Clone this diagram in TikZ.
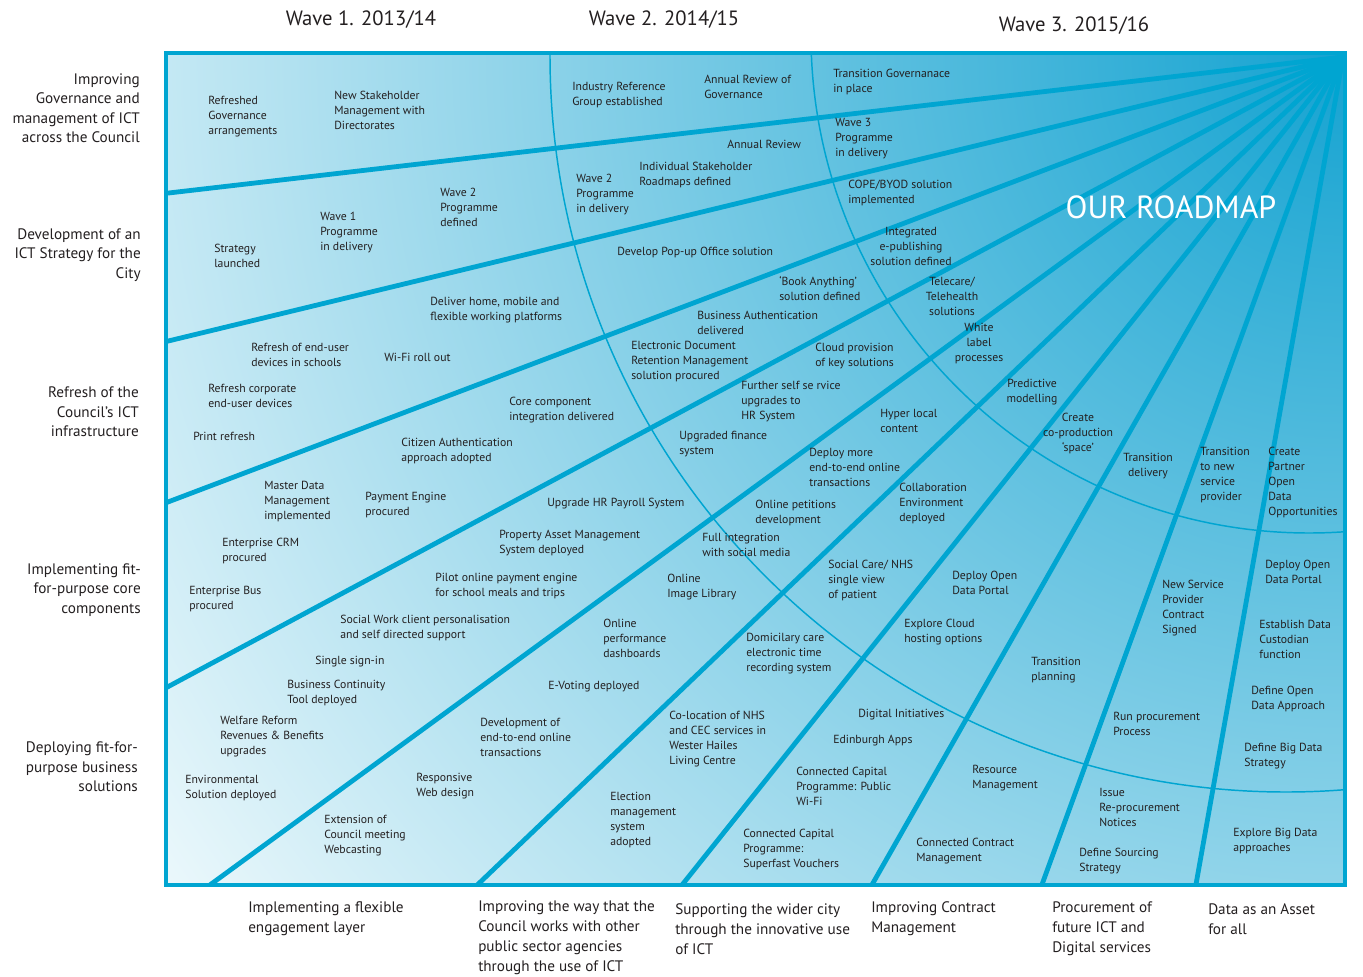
\documentclass[tikz,border=0pt]{standalone}
\usepackage{fontspec}
\setmainfont{PT Sans}
\definecolor{rayblue}{HTML}{00A5D1}
\definecolor{inkdark}{HTML}{231F20}
\definecolor{glowA}{HTML}{15A3D1}
\definecolor{glowE}{HTML}{EEF9FC}
\begin{document}
\begin{tikzpicture}[x=0.75pt,y=-0.75pt,
  item/.style={inner sep=0pt,anchor=west,align=left,text=inkdark,font=\fontsize{8.8}{11.25}\selectfont},
  itemc/.style={item,anchor=center,align=center},
  theme/.style={inner sep=0pt,anchor=east,align=right,text=inkdark,font=\fontsize{11.4}{14.6}\selectfont},
  outcome/.style={inner sep=0pt,anchor=west,align=left,text=inkdark,font=\fontsize{11.4}{15}\selectfont},
  wavehead/.style={inner sep=0pt,text=inkdark,font=\fontsize{15.5}{18}\selectfont},
  ray/.style={draw=rayblue,line width=3.6pt},
  waveline/.style={draw=rayblue,line width=1.1pt}]
\useasboundingbox (0,0) rectangle (1363,977);
  \coordinate (focus) at (1343,57);
  \coordinate (nw) at (166,53);
  \coordinate (se) at (1345,885);
  \coordinate (r1) at (160,194);
  \coordinate (r2) at (160,343);
  \coordinate (r3) at (160,505);
  \coordinate (r4) at (160,691);
  \coordinate (r5) at (203,890);
  \coordinate (r6) at (472,890);
  \coordinate (r7) at (678,890);
  \coordinate (r8) at (869,890);
  \coordinate (r9) at (1040,890);
  \coordinate (r10) at (1195,890);
\begin{scope}
  \clip (nw) rectangle (se);
  \shade[inner color=glowA,outer color=glowE] (focus) circle [radius=1460];
  \draw[waveline] (1286,56) circle [radius=736];
  \draw[waveline] (1309,35) circle [radius=498];
  \draw[ray] (focus) -- (r1);
  \draw[ray] (focus) -- (r2);
  \draw[ray] (focus) -- (r3);
  \draw[ray] (focus) -- (r4);
  \draw[ray] (focus) -- (r5);
  \draw[ray] (focus) -- (r6);
  \draw[ray] (focus) -- (r7);
  \draw[ray] (focus) -- (r8);
  \draw[ray] (focus) -- (r9);
  \draw[ray] (focus) -- (r10);
\end{scope}
\draw[draw=rayblue,line width=3pt] (nw) rectangle (se);

\node[wavehead] (wave1) at (361,20) {Wave 1. 2013/14};
\node[wavehead] (wave2) at (664,20) {Wave 2. 2014/15};
\node[wavehead] (wave3) at (1074,26) {Wave 3. 2015/16};
\node[inner sep=0pt,text=white,font=\fontsize{24}{27}\selectfont] (title) at (1171,207) {OUR ROADMAP};

\node[theme] (governance) at (140,108) {Improving\\Governance and\\management of ICT\\across the Council};
\node[theme] (strategy) at (141,255) {Development of an\\ICT Strategy for the\\City};
\node[theme] (infra) at (139,412) {Refresh of the\\Council’s ICT\\infrastructure};
\node[theme] (core) at (141,590) {Implementing fit-\\for-purpose core\\components};
\node[theme] (business) at (138,767) {Deploying fit-for-\\purpose business\\solutions};

\node[outcome] (engage) at (248,919) {Implementing a flexible\\engagement layer};
\node[outcome] (agencies) at (478,938) {Improving the way that the\\Council works with other\\public sector agencies\\through the use of ICT};
\node[outcome] (city) at (675,929) {Supporting the wider city\\through the innovative use\\of ICT};
\node[outcome] (contract) at (871,919) {Improving Contract\\Management};
\node[outcome] (procure) at (1052,929) {Procurement of\\future ICT and\\Digital services};
\node[outcome] (asset) at (1208,919) {Data as an Asset\\for all};

\node[item] (refgov) at (208,117) {Refreshed\\Governance\\arrangements};
\node[item] (newstake) at (334,110) {New Stakeholder\\Management with\\Directorates};
\node[item] (industry) at (572,95) {Industry Reference\\Group established};
\node[item] (annualgov) at (704,87) {Annual Review of\\Governance};
\node[item] (transgov) at (833,82) {Transition Governanace\\in place};

\node[item] (launched) at (214,256) {Strategy\\launched};
\node[item] (wave1del) at (320,233) {Wave 1\\Programme\\in delivery};
\node[item] (wave2def) at (440,207) {Wave 2\\Programme\\defined};
\node[item] (annual) at (727,144) {Annual Review};
\node[item] (roadmaps) at (639,175) {Individual Stakeholder\\Roadmaps defined};
\node[item] (wave2del) at (576,195) {Wave 2\\Programme\\in delivery};
\node[item] (wave3del) at (835,139) {Wave 3\\Programme\\in delivery};
\node[item] (cope) at (848,193) {COPE/BYOD solution\\implemented};

\node[item] (home) at (430,310) {Deliver home, mobile and\\flexible working platforms};
\node[item] (popup) at (617,252) {Develop Pop-up Office solution};
\node[itemc] (epub) at (911,246) {Integrated\\e-publishing\\solution defined};
\node[item] (schools) at (251,355) {Refresh of end-user\\devices in schools};
\node[item] (wifi) at (384,357) {Wi-Fi roll out};
\node[item] (corporate) at (208,396) {Refresh corporate\\end-user devices};
\node[item] (print) at (193,436) {Print refresh};
\node[item] (book) at (779,289) {‘Book Anything’\\solution defined};
\node[item] (busauth) at (697,323) {Business Authentication\\delivered};
\node[itemc] (telecare) at (952,296) {Telecare/\\Telehealth\\solutions};
\node[itemc] (white) at (979,344) {White\\label\\processes};
\node[item] (edrm) at (631,362) {Electronic Document\\Retention Management\\solution procured};
\node[item] (cloud) at (815,356) {Cloud provision\\of key solutions};

\node[item] (corecomp) at (509,410) {Core component\\integration delivered};
\node[item] (citizen) at (401,451) {Citizen Authentication\\approach adopted};
\node[item] (selfserv) at (741,402) {Further self se rvice\\upgrades to\\HR System};
\node[item] (hyper) at (880,421) {Hyper local\\content};
\node[item] (finance) at (679,444) {Upgraded finance\\system};
\node[itemc] (predict) at (1032,392) {Predictive\\modelling};
\node[itemc] (coprod) at (1078,433) {Create\\co-production\\‘space’};
\node[item] (deploymore) at (809,467) {Deploy more\\end-to-end online\\transactions};
\node[item] (mdm) at (264,502) {Master Data\\Management\\implemented};
\node[item] (payment) at (365,505) {Payment Engine\\procured};
\node[item] (payroll) at (547,504) {Upgrade HR Payroll System};
\node[item] (collab) at (899,504) {Collaboration\\Environment\\deployed};
\node[item] (petitions) at (755,513) {Online petitions\\development};
\node[itemc] (transdel) at (1148,466) {Transition\\delivery};
\node[item] (transnew) at (1200,475) {Transition\\to new\\service\\provider};
\node[item] (partner) at (1268,482) {Create\\Partner\\Open\\Data\\Opportunities};

\node[item] (crm) at (222,551) {Enterprise CRM\\procured};
\node[item] (bus) at (189,599) {Enterprise Bus\\procured};
\node[item] (property) at (499,543) {Property Asset Management\\System deployed};
\node[item] (pilot) at (435,586) {Pilot online payment engine\\for school meals and trips};
\node[item] (social) at (702,545) {Full integration\\with social media};
\node[item] (image) at (667,587) {Online\\Image Library};
\node[item] (nhs) at (828,580) {Social Care/ NHS\\single view\\of patient};
\node[item] (portala) at (952,583) {Deploy Open\\Data Portal};
\node[item] (newprov) at (1162,608) {New Service\\Provider\\Contract\\Signed};
\node[item] (portalb) at (1265,572) {Deploy Open\\Data Portal};

\node[item] (socialwork) at (340,628) {Social Work client personalisation\\and self directed support};
\node[item] (signin) at (315,662) {Single sign-in};
\node[item] (continuity) at (287,693) {Business Continuity\\Tool deployed};
\node[item] (welfare) at (220,737) {Welfare Reform\\Revenues \& Benefits\\upgrades};
\node[item] (environ) at (185,788) {Environmental\\Solution deployed};
\node[item] (perform) at (603,638) {Online\\performance\\dashboards};
\node[item] (evoting) at (548,687) {E-Voting deployed};
\node[item] (domicil) at (746,654) {Domicilary care\\electronic time\\recording system};
\node[item] (hosting) at (904,632) {Explore Cloud\\hosting options};
\node[item] (transplan) at (1031,670) {Transition\\planning};
\node[item] (custodian) at (1259,639) {Establish Data\\Custodian\\function};
\node[item] (approach) at (1251,699) {Define Open\\Data Approach};
\node[item] (runproc) at (1113,724) {Run procurement\\Process};
\node[item] (bigdata) at (1244,756) {Define Big Data\\Strategy};

\node[item] (devonline) at (480,737) {Development of\\end-to-end online\\transactions};
\node[item] (colocation) at (669,739) {Co-location of NHS\\and CEC services in\\Wester Hailes\\Living Centre};
\node[item] (digital) at (858,715) {Digital Initiatives};
\node[item] (apps) at (833,741) {Edinburgh Apps};
\node[item] (responsive) at (416,786) {Responsive\\Web design};
\node[item] (webcast) at (324,836) {Extension of\\Council meeting\\Webcasting};
\node[item] (election) at (610,820) {Election\\management\\system\\adopted};
\node[item] (publicwifi) at (796,786) {Connected Capital\\Programme: Public\\Wi-Fi};
\node[item] (vouchers) at (743,849) {Connected Capital\\Programme:\\Superfast Vouchers};
\node[item] (resource) at (972,778) {Resource\\Management};
\node[item] (connected) at (916,851) {Connected Contract\\Management};
\node[item] (notices) at (1099,807) {Issue\\Re-procurement\\Notices};
\node[item] (sourcing) at (1079,861) {Define Sourcing\\Strategy};
\node[item] (explore) at (1233,841) {Explore Big Data\\approaches};
\end{tikzpicture}
\end{document}
